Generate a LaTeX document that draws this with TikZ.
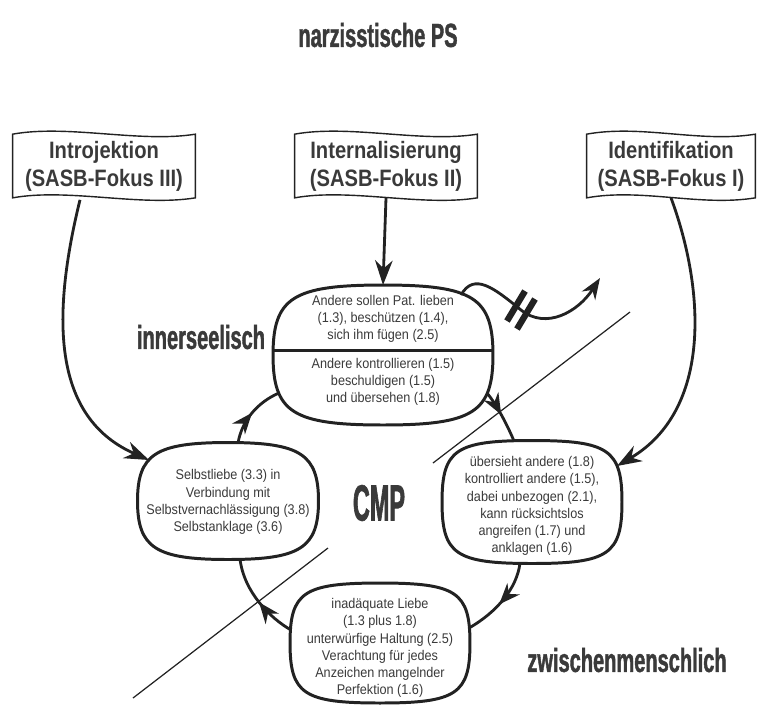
\documentclass[tikz,border=0pt]{standalone}
\usepackage{fontspec}
\usepackage{tikz}
\usetikzlibrary{arrows.meta, positioning, calc, decorations.markings}
\setmainfont{Liberation Sans}
\newfontfamily\cellfont[FakeStretch=0.9]{Liberation Sans}
\newfontfamily\flagfont[FakeStretch=0.85]{Liberation Sans}
\newfontfamily\headfont[FakeStretch=0.6, FakeBold=1.2]{Liberation Sans}
\newfontfamily\cmpfont[FakeStretch=0.46, FakeBold=1.2]{Liberation Sans}
\definecolor{inkcolor}{HTML}{222222}
\definecolor{textcolor}{HTML}{3A3A3A}

\begin{document}
\begin{tikzpicture}[x=0.02cm, y=-0.02cm,
  flag/.style={minimum height=1.26cm, inner sep=0pt, align=center, text=textcolor,
               font=\flagfont\bfseries\fontsize{13.5}{16}\selectfont},
  flagline/.style={draw=inkcolor, line width=0.8pt},
  cell/.style={inner sep=0pt, outer sep=0pt},
  cellline/.style={draw=inkcolor, line width=1.7pt},
  celltext/.style={align=center, inner sep=0pt, text=textcolor,
                   font=\cellfont\fontsize{8}{9.8}\selectfont},
  headlabel/.style={inner sep=0pt, text=textcolor,
                    font=\headfont\bfseries\fontsize{19}{22}\selectfont},
  flow/.style={draw=inkcolor, line width=1.6pt, -{Stealth[length=14pt, width=10pt]}},
  cyc/.style={draw=inkcolor, line width=1.6pt},
  midarrow/.style={postaction={decorate}, decoration={markings,
                   mark=at position #1 with {\arrow[inkcolor]{Stealth[length=12pt, width=9.5pt]}}}},
  sepline/.style={draw=inkcolor, line width=0.7pt}]

  \useasboundingbox (0,0) rectangle (759,707);

  \node[headlabel] (title) at (378,35) {narzisstische PS};

  \node[flag, minimum width=3.64cm] (introj) at (104,166) {Introjektion\\(SASB-Fokus III)};
  \node[flag, minimum width=3.64cm] (internal) at (386,166) {Internalisierung\\(SASB-Fokus II)};
  \node[flag, minimum width=3.36cm] (ident) at (671,166) {Identifikation\\(SASB-Fokus I)};
  \foreach \n in {introj, internal, ident} {
    \draw[flagline] (\n.north west)
      .. controls ($(\n.north west)+(55,-10)$) and ($(\n.north east)+(-55,9)$) .. (\n.north east)
      -- (\n.south east)
      .. controls ($(\n.south east)+(-55,9)$) and ($(\n.south west)+(55,-10)$) .. (\n.south west)
      -- cycle;
  }

  \node[cell, minimum width=4.4cm, minimum height=2.8cm] (topel) at (383,355) {};
  \node[cell, minimum width=3.62cm, minimum height=2.34cm] (leftel) at (228,501) {};
  \node[cell, minimum width=3.6cm, minimum height=2.46cm] (rightel) at (532,502) {};
  \node[cell, minimum width=3.6cm, minimum height=2.4cm] (botel) at (380,643) {};
  \foreach \n/\k in {topel/0.82, leftel/0.8, rightel/0.85, botel/0.85} {
    \draw[cellline] (\n.north)
      .. controls ($(\n.north)!\k!(\n.north east)$) and ($(\n.east)!\k!(\n.north east)$) .. (\n.east)
      .. controls ($(\n.east)!\k!(\n.south east)$) and ($(\n.south)!\k!(\n.south east)$) .. (\n.south)
      .. controls ($(\n.south)!\k!(\n.south west)$) and ($(\n.west)!\k!(\n.south west)$) .. (\n.west)
      .. controls ($(\n.west)!\k!(\n.north west)$) and ($(\n.north)!\k!(\n.north west)$) .. (\n.north)
      -- cycle;
  }
  \draw[cellline] ($(topel)+(-110,-5)$) -- ($(topel)+(110,-5)$);

  \node[celltext] (topup) at (383,319) {Andere sollen Pat. lieben\\(1.3), beschützen (1.4),\\sich ihm fügen (2.5)};
  \node[celltext] (toplow) at (383,382) {Andere kontrollieren (1.5)\\beschuldigen (1.5)\\und übersehen (1.8)};
  \node[celltext] (lefttxt) at (228,502) {Selbstliebe (3.3) in\\Verbindung mit\\Selbstvernachlässigung (3.8)\\Selbstanklage (3.6)};
  \node[celltext] (righttxt) at (532,506) {übersieht andere (1.8)\\kontrolliert andere (1.5),\\dabei unbezogen (2.1),\\kann rücksichtslos\\angreifen (1.7) und\\anklagen (1.6)};
  \node[celltext] (bottxt) at (380,648) {inadäquate Liebe\\(1.3 plus 1.8)\\unterwürfige Haltung (2.5)\\Verachtung für jedes\\Anzeichen mangelnder\\Perfektion (1.6)};

  \node[headlabel] (inner) at (201,337) {innerseelisch};
  \node[headlabel] (between) at (627,660) {zwischenmenschlich};
  \node[inner sep=0pt, text=textcolor, font=\cmpfont\bfseries\fontsize{29}{32}\selectfont] (cmp) at (379,503) {CMP};

  \coordinate (cutA) at (133,698);
  \coordinate (cutB) at (328,548);
  \coordinate (cutC) at (433,463);
  \coordinate (cutD) at (630,312);
  \draw[sepline] (cutA) -- (cutB);
  \draw[sepline] (cutC) -- (cutD);

  \draw[flow] ($(introj.south)+(-24,2)$) .. controls (48,330) and (58,420) .. ($(leftel)+(-79,-41)$);
  \draw[flow] (internal.south) -- (topel.north);
  \draw[flow] (ident.south) .. controls (705,290) and (712,410) .. ($(rightel)+(85,-36)$);

  \draw[cyc, midarrow=0.47] ($(topel)+(104,38)$) .. controls (496,404) and (506,422) .. ($(rightel)+(-18,-61)$);
  \draw[cyc, midarrow=0.55] ($(rightel)+(-12,61)$) .. controls (517,588) and (497,612) .. ($(botel)+(89,-15)$);
  \draw[cyc, midarrow=0.47] ($(botel)+(-89,-13)$) .. controls (270,618) and (244,592) .. ($(leftel)+(12,58)$);
  \draw[cyc, midarrow=0.5] ($(leftel)+(10,-58)$) .. controls (242,420) and (258,402) .. ($(topel)+(-104,38)$);

  \coordinate (brk) at (521,310);
  \draw[flow, -{Stealth[length=12pt, width=9pt]}] ($(topel)+(78,-60)$) .. controls (474,272) and (494,288) .. (brk)
    .. controls (546,330) and (578,312) .. (600,278);
  \foreach \d in {-1,1} {
    \draw[inkcolor, line width=3.6pt] ($(brk)+(\d*5,\d*4)+(-9,15)$) -- ($(brk)+(\d*5,\d*4)+(9,-15)$);
  }
\end{tikzpicture}
\end{document}
